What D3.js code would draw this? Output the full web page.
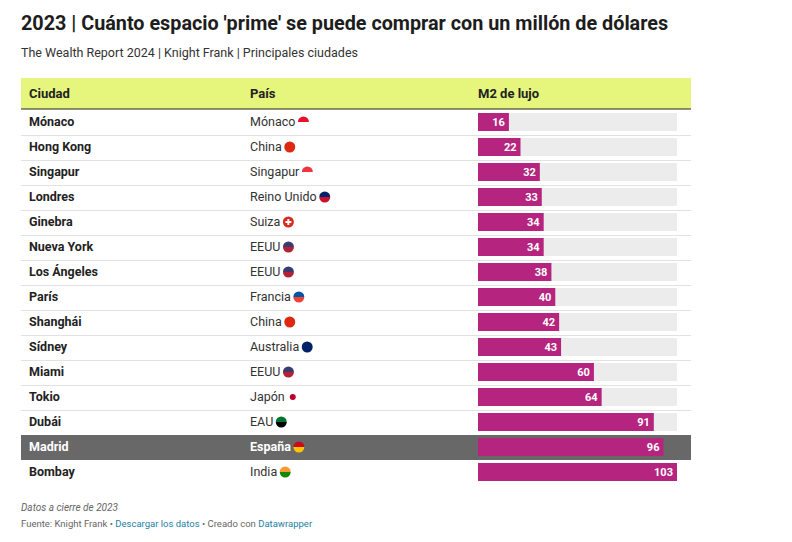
<!DOCTYPE html><html><head><meta charset="utf-8"><script src="https://cdn.jsdelivr.net/npm/d3@7"></script>
<style>body{margin:0;background:#fff;font-family:Roboto,sans-serif}</style></head><body><svg id="c" width="792" height="542"></svg>
<script>
const cities=["Mónaco","Hong Kong","Singapur","Londres","Ginebra","Nueva York","Los Ángeles","París","Shanghái","Sídney","Miami","Tokio","Dubái","Madrid","Bombay"];
const countries=["Mónaco","China","Singapur","Reino Unido","Suiza","EEUU","EEUU","Francia","China","Australia","EEUU","Japón","EAU","España","India"];
const values=[16,22,32,33,34,34,38,40,42,43,60,64,91,96,103];
const flags={"Mónaco":["#e8112d","#fff"],"China":["#de2910","#de2910"],"Singapur":["#ef3340","#fff"],"Reino Unido":["#012169","#c8102e"],"Suiza":["#da291c","#da291c"],"EEUU":["#3c3b6e","#b22234"],"Francia":["#0055a4","#ef4135"],"Australia":["#012169","#012169"],"Japón":["#fff","#fff"],"EAU":["#00732f","#000"],"España":["#c60b1e","#ffc400"],"India":["#ff9933","#138808"]};
const svg=d3.select("#c");
svg.append("text").attr("x",21).attr("y",30).attr("font-size",19.8).attr("font-weight",700).attr("fill","#1d1d1d").text("2023 | Cuánto espacio 'prime' se puede comprar con un millón de dólares");
svg.append("text").attr("x",21).attr("y",57).attr("font-size",12.5).attr("fill","#333").text("The Wealth Report 2024 | Knight Frank | Principales ciudades");
const L=21,R=691,tableTop=110,rh=25;
svg.append("rect").attr("x",L).attr("y",78).attr("width",R-L).attr("height",31).attr("fill","#e6f57c");
svg.append("line").attr("x1",L).attr("x2",R).attr("y1",109).attr("y2",109).attr("stroke","#222").attr("stroke-width",1.2);
[["Ciudad",29],["País",250],["M2 de lujo",478]].forEach(([t,x])=>svg.append("text").attr("x",x).attr("y",98).attr("font-size",13).attr("font-weight",700).attr("fill","#222").text(t));
const x=d3.scaleLinear().domain([0,103]).range([478,677]);
const y=d3.scaleBand().domain(d3.range(cities.length)).range([tableTop,tableTop+rh*cities.length]);
cities.forEach((c,i)=>{
 const y0=y(i),hl=c==="Madrid";
 const g=svg.append("g");
 if(hl) g.append("rect").attr("x",L).attr("y",y0).attr("width",R-L).attr("height",rh).attr("fill","#686868");
 else if(i<cities.length-1) g.append("line").attr("x1",L).attr("x2",R).attr("y1",y0+rh+0.5).attr("y2",y0+rh+0.5).attr("stroke","#e2e2e2");
 const col=hl?"#fff":"#222";
 g.append("text").attr("x",29).attr("y",y0+16).attr("font-size",12.5).attr("font-weight",700).attr("fill",col).text(c);
 const t=g.append("text").attr("x",250).attr("y",y0+16).attr("font-size",12.5).attr("font-weight",hl?700:400).attr("fill",hl?"#fff":"#333").text(countries[i]);
 const w=t.node().getComputedTextLength();
 const f=flags[countries[i]]||["#ccc","#ccc"];
 const cx=250+w+8,cy=y0+12;
 g.append("clipPath").attr("id","f"+i).append("circle").attr("cx",cx).attr("cy",cy).attr("r",5.5);
 const fg=g.append("g").attr("clip-path","url(#f"+i+")");
 fg.append("rect").attr("x",cx-6).attr("y",cy-6).attr("width",12).attr("height",6).attr("fill",f[0]);
 fg.append("rect").attr("x",cx-6).attr("y",cy).attr("width",12).attr("height",6).attr("fill",f[1]);
 if(countries[i]==="Japón"){g.append("circle").attr("cx",cx).attr("cy",cy).attr("r",5.5).attr("fill","#fff");g.append("circle").attr("cx",cx).attr("cy",cy).attr("r",3).attr("fill","#bc002d");}
 if(countries[i]==="Suiza"){g.append("rect").attr("x",cx-3).attr("y",cy-1).attr("width",6).attr("height",2).attr("fill","#fff");g.append("rect").attr("x",cx-1).attr("y",cy-3).attr("width",2).attr("height",6).attr("fill","#fff");}
 if(!hl) g.append("rect").attr("x",x(0)).attr("y",y0+3).attr("width",x(103)-x(0)).attr("height",18).attr("fill","#ececec");
 g.append("rect").attr("x",x(0)).attr("y",y0+3).attr("width",x(values[i])-x(0)).attr("height",18).attr("fill","#b5257f");
 g.append("text").attr("x",x(values[i])-4).attr("y",y0+16).attr("text-anchor","end").attr("font-size",11).attr("font-weight",700).attr("fill","#fff").text(values[i]);
});
svg.append("text").attr("x",21).attr("y",511).attr("font-size",10).attr("font-style","italic").attr("fill","#666").text("Datos a cierre de 2023");
const ft=svg.append("text").attr("x",21).attr("y",527).attr("font-size",9.5).attr("fill","#666");
ft.append("tspan").text("Fuente: Knight Frank • ");
ft.append("tspan").attr("fill","#1d81a2").text("Descargar los datos");
ft.append("tspan").text(" • Creado con ");
ft.append("tspan").attr("fill","#1d81a2").text("Datawrapper");
</script></body></html>
